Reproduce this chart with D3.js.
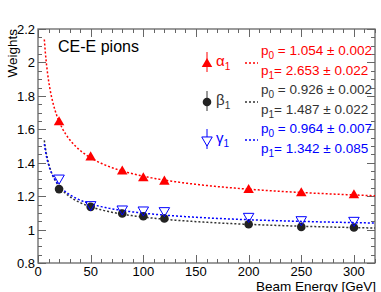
<!doctype html>
<html>
<head>
<meta charset="utf-8">
<script src="https://cdn.jsdelivr.net/npm/d3@7"></script>
<style>
html,body{margin:0;background:#fff;overflow:hidden;}
text{font-family:"Liberation Sans",Arial,sans-serif;}
</style>
</head>
<body>
<script>
// beam energies and fitted weights
var energies = [20, 50, 80, 100, 120, 200, 250, 300];
var alphaVals = [1.645, 1.435, 1.350, 1.310, 1.290, 1.240, 1.220, 1.208];
var betaVals  = [1.242, 1.136, 1.096, 1.080, 1.066, 1.032, 1.016, 1.012];
var gammaVals = [1.305, 1.146, 1.120, 1.114, 1.110, 1.076, 1.056, 1.052];
// fit p0 + p1/sqrt(E)
var alphaFit = [1.054, 2.653];
var betaFit  = [0.926, 1.487];
var gammaFit = [0.964, 1.342];
var fitLabels = [
  ["1.054 \u00b1 0.002", "2.653 \u00b1 0.022"],
  ["0.926 \u00b1 0.002", "1.487 \u00b1 0.022"],
  ["0.964 \u00b1 0.007", "1.342 \u00b1 0.085"]
];
var xTicks = [0, 50, 100, 150, 200, 250, 300];
var yTicks = [0.8, 1, 1.2, 1.4, 1.6, 1.8, 2, 2.2];

var W = 381, H = 292;
var x = d3.scaleLinear().domain([0, 320]).range([38, 375]);
var y = d3.scaleLinear().domain([0.8, 2.2]).range([263, 29]);

var svg = d3.select("body").append("svg")
    .attr("width", W).attr("height", H);

var frameCol = "#666";

// ticks (all four sides, pointing inward)
var g = svg.append("g").attr("stroke", frameCol).attr("stroke-width", 1);
d3.range(0, 321, 10).forEach(function(v){
  var major = v % 50 === 0, len = major ? 8 : 4, px = Math.round(x(v)) + 0.5;
  g.append("line").attr("x1", px).attr("x2", px).attr("y1", 263).attr("y2", 263 - len);
  g.append("line").attr("x1", px).attr("x2", px).attr("y1", 29).attr("y2", 29 + len);
});
d3.range(0.8, 2.2001, 0.05).forEach(function(v){
  var major = Math.abs(v * 5 - Math.round(v * 5)) < 1e-6, len = major ? 8 : 4, py = Math.round(y(v)) + 0.5;
  g.append("line").attr("y1", py).attr("y2", py).attr("x1", 38).attr("x2", 38 + len);
  g.append("line").attr("y1", py).attr("y2", py).attr("x1", 375).attr("x2", 375 - len);
});
svg.append("rect").attr("x", 38).attr("y", 29).attr("width", 337).attr("height", 234)
    .attr("fill", "none").attr("stroke", frameCol).attr("stroke-width", 1.3);

// tick labels
svg.selectAll(".xl").data(xTicks).enter().append("text")
    .attr("x", function(d){ return x(d); }).attr("y", 276)
    .attr("text-anchor", "middle").attr("font-size", 13).text(function(d){ return d; });
svg.selectAll(".yl").data(yTicks).enter().append("text")
    .attr("x", 35).attr("y", function(d){ return y(d) + 5; })
    .attr("text-anchor", "end").attr("font-size", 13).text(function(d){ return d; });

svg.append("text").attr("transform", "translate(17,29) rotate(-90)")
    .attr("text-anchor", "end").attr("font-size", 13.5).text("Weights");
svg.append("text").attr("x", 376).attr("y", 291)
    .attr("text-anchor", "end").attr("font-size", 13.5).text("Beam Energy [GeV]");
svg.append("text").attr("x", 58).attr("y", 52).attr("font-size", 16).text("CE-E pions");

// fit curves
var curveE = d3.range(6, 320.5, 1);
function drawFit(p, col){
  var line = d3.line().x(function(e){ return x(e); }).y(function(e){ return y(p[0] + p[1] / Math.sqrt(e)); });
  svg.append("path").datum(curveE).attr("d", line).attr("fill", "none")
     .attr("stroke", col).attr("stroke-width", 1.5).attr("stroke-dasharray", "2,2");
}
drawFit(alphaFit, "#ff0000");
drawFit(betaFit, "#333");
drawFit(gammaFit, "#0000ff");

// markers
var triUp = d3.symbol().type(d3.symbolTriangle).size(48);
function drawPoints(vals, kind){
  var sel = svg.append("g").selectAll("path").data(energies).enter();
  if (kind === "alpha") {
    sel.append("path").attr("d", triUp)
       .attr("transform", function(d, i){ return "translate(" + x(d) + "," + (y(vals[i]) + 0.5) + ")"; })
       .attr("fill", "#ff0000");
  } else if (kind === "beta") {
    sel.append("circle").attr("cx", function(d){ return x(d); })
       .attr("cy", function(d, i){ return y(vals[i]); })
       .attr("r", 4.3).attr("fill", "#222");
  } else {
    sel.append("path").attr("d", triUp)
       .attr("transform", function(d, i){ return "translate(" + x(d) + "," + (y(vals[i]) - 0.5) + ") rotate(180)"; })
       .attr("fill", "none").attr("stroke", "#0000ff").attr("stroke-width", 1);
  }
}
drawPoints(alphaVals, "alpha");
drawPoints(betaVals, "beta");
drawPoints(gammaVals, "gamma");

// legend
var legend = [
  {name: "\u03b1", col: "#ff0000", kind: "alpha", y: 63, t: 55},
  {name: "\u03b2", col: "#333", kind: "beta", y: 102, t: 94},
  {name: "\u03b3", col: "#0000ff", kind: "gamma", y: 140, t: 133}
];
legend.forEach(function(l, k){
  var lg = svg.append("g");
  lg.append("line").attr("x1", 207).attr("x2", 207).attr("y1", l.y - 11).attr("y2", l.y + 9)
    .attr("stroke", l.col).attr("stroke-width", 1);
  if (l.kind === "alpha") {
    lg.append("path").attr("d", triUp).attr("transform", "translate(207," + (l.y + 1) + ")").attr("fill", l.col);
  } else if (l.kind === "beta") {
    lg.append("circle").attr("cx", 207).attr("cy", l.y).attr("r", 4.3).attr("fill", "#222");
  } else {
    lg.append("path").attr("d", triUp).attr("transform", "translate(207," + l.y + ") rotate(180)")
      .attr("fill", "#fff").attr("stroke", l.col);
  }
  var nm = lg.append("text").attr("x", 216).attr("y", l.y + 3).attr("fill", l.col).attr("font-size", 15);
  nm.append("tspan").text(l.name);
  nm.append("tspan").attr("dy", 4).attr("font-size", 10).text("1");
  lg.append("line").attr("x1", 245).attr("x2", 258).attr("y1", l.y).attr("y2", l.y)
    .attr("stroke", l.col).attr("stroke-width", 1.5).attr("stroke-dasharray", "2,2");
  [0, 1].forEach(function(j){
    var t = lg.append("text").attr("x", 261).attr("y", l.t + j * 20).attr("fill", l.col).attr("font-size", 13.5);
    t.append("tspan").text("p");
    t.append("tspan").attr("dy", 4).attr("font-size", 10).text(j);
    t.append("tspan").attr("dy", -4).text((j === 0 ? " = " : "= ") + fitLabels[k][j]);
  });
});
</script>
</body>
</html>
